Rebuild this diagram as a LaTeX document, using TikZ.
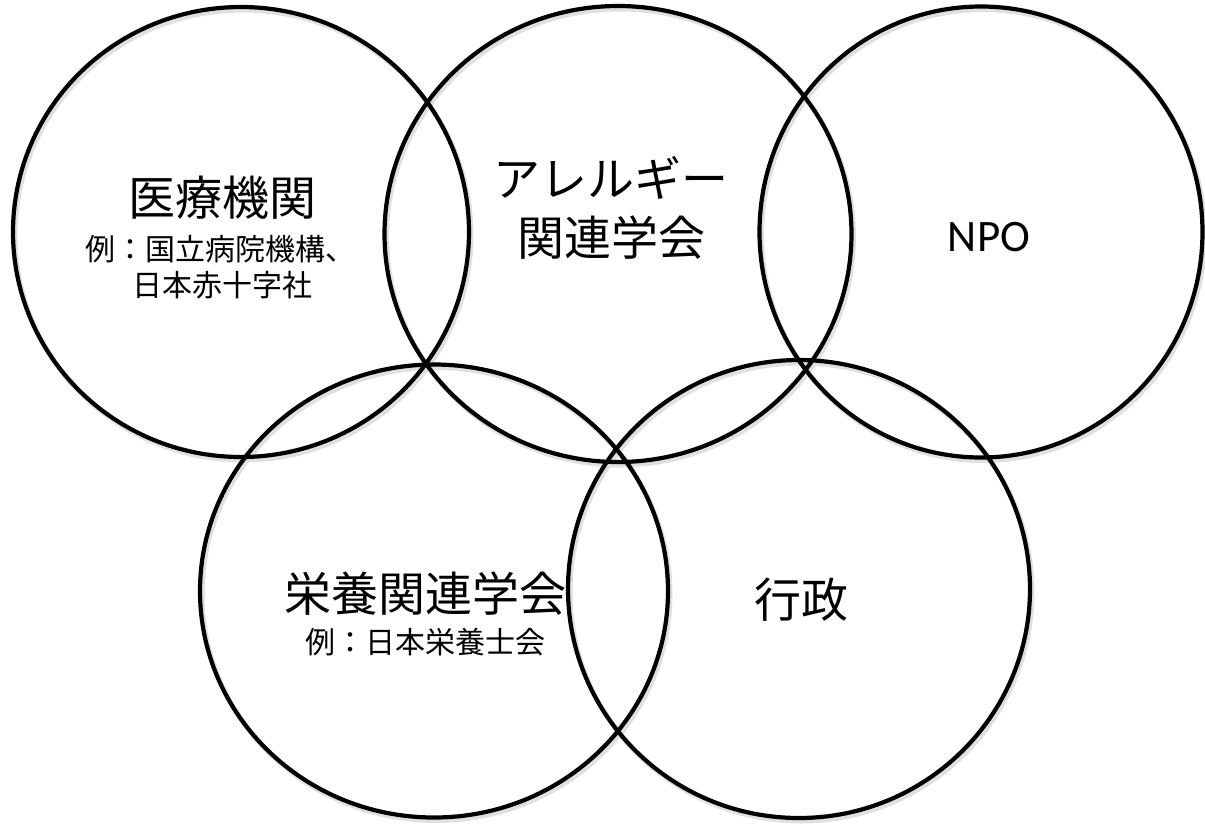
\documentclass[tikz,border=0pt]{standalone}
\usepackage{fontspec}
\newfontfamily\jp{Noto Sans CJK JP}
\newfontfamily\lat{Carlito}
\usetikzlibrary{shapes.geometric}
\begin{document}
\begin{tikzpicture}[x=1pt,y=-1pt,
  ring/.style={ellipse, draw=black, line width=4.2pt, inner sep=0pt},
  shade/.style={ellipse, draw=black!12, line width=5pt, inner sep=0pt},
  big/.style={font=\jp\fontsize{47}{54}\selectfont, inner sep=0pt, align=center},
  small/.style={font=\jp\fontsize{30}{34}\selectfont, inner sep=0pt, align=center},
  latin/.style={font=\lat\fontsize{45}{52}\selectfont, inner sep=0pt}]
\useasboundingbox (0,0) rectangle (1205,823);
% soft shadows
\foreach \cx/\cy/\w/\h in {241/232/456/450, 618/234/467/456, 981/232/443/451, 434/591/468/453, 799/589/462/458}
  \node[shade, minimum width=\w pt, minimum height=\h pt] at (\cx+2,\cy+3) {};
\node[ring, minimum width=456pt, minimum height=450pt] (c1) at (241,232) {};
\node[ring, minimum width=467pt, minimum height=456pt] (c2) at (618,234) {};
\node[ring, minimum width=443pt, minimum height=451pt] (c3) at (981,232) {};
\node[ring, minimum width=468pt, minimum height=453pt] (c4) at (434,591) {};
\node[ring, minimum width=462pt, minimum height=458pt] (c5) at (799,589) {};
% labels
\node[big] (t1) at (222,198) {医療機関};
\node[small] (s1a) at (220,249) {例：国立病院機構、};
\node[small] (s1b) at (222,285) {日本赤十字社};
\node[big] (t2a) at (611,178) {アレルギー};
\node[big] (t2b) at (611,238) {関連学会};
\node[latin] (t3) at (989,237) {NPO};
\node[big] (t4) at (425,594) {栄養関連学会};
\node[small] (s4) at (425,642) {例：日本栄養士会};
\node[big] (t5) at (801,600) {行政};
\end{tikzpicture}
\end{document}
